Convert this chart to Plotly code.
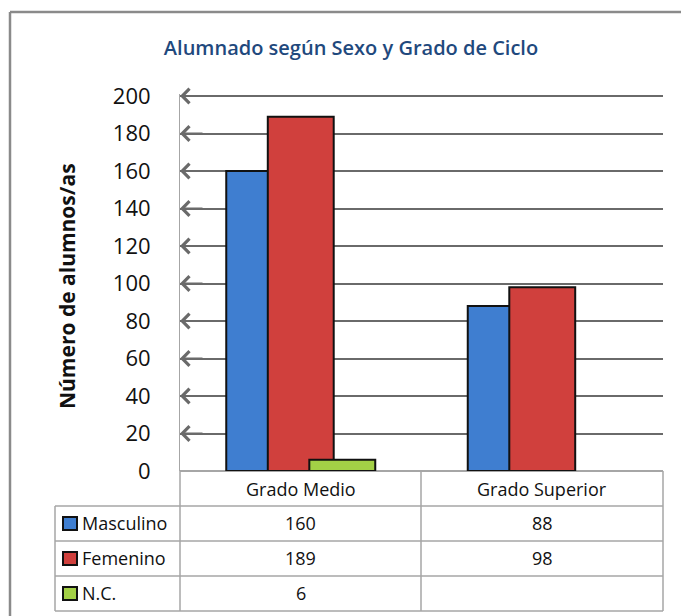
import plotly.graph_objects as go

categories = ["Grado Medio", "Grado Superior"]
series_names = ["Masculino", "Femenino", "N.C."]
masculino = [160, 88]
femenino = [189, 98]
nc = [6, None]
series_values = [masculino, femenino, nc]
y_ticks = [0, 20, 40, 60, 80, 100, 120, 140, 160, 180, 200]
title_text = "Alumnado según Sexo y Grado de Ciclo"
y_title = "Número de alumnos/as"

# body margin is removed by the post script, so figure pixels = reference pixels
W, H = 681, 616
PW = 483
PH = 377
L = 180
B = H - 471
T = H - B - PH
R = W - L - PW
Y_MAX = 200 * PH / 375.0


def px_x(p):
    return (p - 180) / PW


def px_y(p):
    return (471 - p) / PH


colors = ["#3f7ed0", "#d0403d", "#a3d046"]
bar_w = 0.273
spacing = 0.172
offsets = [-spacing - bar_w / 2, -bar_w / 2, spacing - bar_w / 2]

fig = go.Figure()
for name, vals, col, off in zip(series_names, series_values, colors, offsets):
    fig.add_trace(go.Bar(
        x=categories, y=vals, name=name,
        marker=dict(color=col, line=dict(color="#111111", width=2)),
        width=bar_w, offset=off, showlegend=False, hoverinfo="skip",
    ))

font_main = "Open Sans, Liberation Sans, Arial"
shapes = []
annotations = []

# outer frame (left and top edges only; the rest lies outside the picture)
frame = dict(color="#8a8a8a", width=2.5)
shapes.append(dict(type="line", xref="paper", yref="paper",
                   x0=px_x(10), x1=px_x(681), y0=px_y(12), y1=px_y(12), line=frame, layer="below"))
shapes.append(dict(type="line", xref="paper", yref="paper",
                   x0=px_x(10), x1=px_x(10), y0=px_y(12), y1=px_y(620), line=frame, layer="below"))

# gridline arrowheads
for v in y_ticks[1:]:
    annotations.append(dict(x=0, y=v, xref="paper", yref="y", text="",
                            showarrow=True, ax=24, ay=0, axref="pixel", ayref="pixel",
                            arrowhead=4, arrowsize=1.4, arrowwidth=2, arrowcolor="#6a6a6a",
                            standoff=0))

# y axis title
annotations.append(dict(x=px_x(67), y=px_y(286), xref="paper", yref="paper", text="<b>" + y_title + "</b>",
                        textangle=-90, showarrow=False, xanchor="center", yanchor="middle",
                        font=dict(size=21, color="#111111", family=font_main)))

# data table
tcol = "#a6a6a6"
row_lines = [506, 541, 576, 611]
for yy in row_lines:
    shapes.append(dict(type="line", xref="paper", yref="paper",
                       x0=px_x(55), x1=1, y0=px_y(yy), y1=px_y(yy),
                       line=dict(color=tcol, width=1.5)))
for xx in [180, 421, 663]:
    shapes.append(dict(type="line", xref="paper", yref="paper",
                       x0=px_x(xx), x1=px_x(xx), y0=px_y(471), y1=px_y(611),
                       line=dict(color=tcol, width=1.5)))
shapes.append(dict(type="line", xref="paper", yref="paper",
                   x0=px_x(55), x1=px_x(55), y0=px_y(506), y1=px_y(611),
                   line=dict(color=tcol, width=1.5)))

tfont = dict(size=18, color="#111111", family=font_main)
for cat in categories:
    annotations.append(dict(x=cat, y=px_y(489), xref="x", yref="paper", text=cat,
                            xanchor="center", yanchor="middle", showarrow=False, font=tfont))

row_centers = [523, 558, 593]
for name, vals, col, rc in zip(series_names, series_values, colors, row_centers):
    shapes.append(dict(type="rect", xref="paper", yref="paper",
                       x0=px_x(63), x1=px_x(77), y0=px_y(rc + 7), y1=px_y(rc - 6),
                       fillcolor=col, line=dict(color="#111111", width=2)))
    annotations.append(dict(x=px_x(80), y=px_y(rc), xref="paper", yref="paper", text=name,
                            xanchor="left", yanchor="middle", showarrow=False, font=tfont))
    for cat, v in zip(categories, vals):
        annotations.append(dict(x=cat, y=px_y(rc), xref="x", yref="paper",
                                text="" if v is None else str(v), showarrow=False,
                                xanchor="center", yanchor="middle", font=tfont))

fig.update_layout(
    width=W, height=H,
    margin=dict(l=L, r=R, t=T, b=B, pad=0),
    paper_bgcolor="white", plot_bgcolor="white",
    barmode="overlay",
    hovermode=False,
    title=dict(text=title_text, x=351 / W, xanchor="center", y=1 - 48 / H,
               yanchor="middle",
               font=dict(size=20, color="#1f497d", family=font_main, weight=600)),
    xaxis=dict(range=[-0.5, 1.5], showticklabels=False, showgrid=False, zeroline=False,
               showline=False, ticks=""),
    yaxis=dict(range=[0, Y_MAX], tickvals=y_ticks, showgrid=True, gridcolor="#6a6a6a", gridwidth=2,
               zeroline=True, zerolinecolor=tcol, zerolinewidth=1.5,
               showline=True, linecolor="#a6a6a6", linewidth=1,
               ticks="", ticklabelstandoff=24,
               tickfont=dict(size=22, color="#111111", family=font_main),
               title=dict(text="")),
    shapes=shapes, annotations=annotations,
)

fig.write_html(
    "out.html",
    config={"displayModeBar": False},
    post_script=("document.documentElement.style.margin='0';document.body.style.margin='0';"
                 "document.documentElement.style.overflow='hidden';document.body.style.overflow='hidden';"),
)
